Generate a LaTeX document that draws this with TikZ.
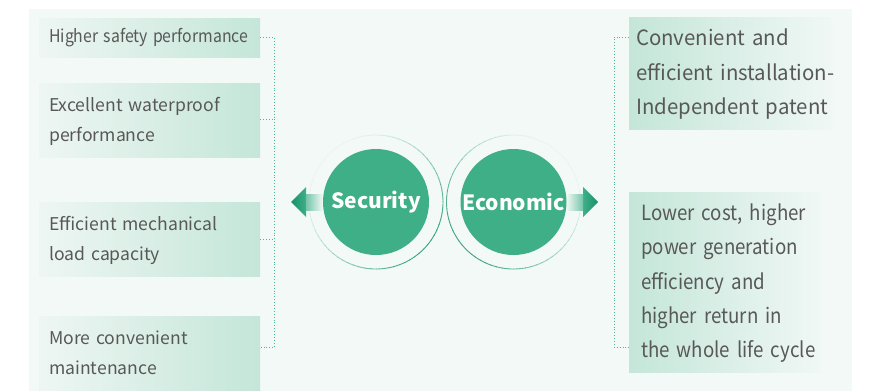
\documentclass[tikz,border=0pt]{standalone}
\usepackage{fontspec}
\usepackage{graphicx}
\setmainfont{Noto Sans CJK SC}
\newfontfamily\rfont[FakeStretch=0.97]{Noto Sans CJK SC}
\newfontfamily\rbfont[FakeStretch=0.89]{Noto Sans CJK SC}
\usetikzlibrary{calc}
\definecolor{panelbg}{HTML}{F3F9F7}
\definecolor{boxgreen}{HTML}{C4E6D9}
\definecolor{boxlight}{HTML}{EEF6F3}
\definecolor{circgreen}{HTML}{3FAF88}
\definecolor{ringgreen}{HTML}{3AA57E}
\definecolor{dotgreen}{HTML}{4DB890}
\definecolor{txtgray}{HTML}{585858}
\definecolor{arrowdark}{HTML}{16916A}
\newcommand{\txtlines}[1]{\begin{tabular}{@{}l@{}}#1\end{tabular}}
\tikzset{
  lbox/.style={shape=rectangle, inner xsep=10pt, inner ysep=0pt, left color=boxlight, right color=boxgreen, draw=none,
    text=txtgray, align=left, font=\fontsize{17.6}{30}\selectfont, anchor=north west},
  rbox/.style={shape=rectangle, inner ysep=0pt, left color=boxgreen, right color=boxlight!60!panelbg, draw=none,
    text=txtgray, align=left, font=\rfont\fontsize{21}{34.3}\selectfont, anchor=north west},
  conn/.style={draw=dotgreen, dotted, line width=0.9pt},
  bigcirc/.style={circle, fill=circgreen, minimum size=106pt, inner sep=0pt, text=white, font=\bfseries\fontsize{21}{24}\selectfont}
}
\begin{document}
\begin{tikzpicture}[x=1pt,y=-1pt]
\useasboundingbox (0,0) rectangle (872,391);
\fill[panelbg] (29,9) rectangle (852,391);
% left boxes
\node[lbox, minimum width=221pt, minimum height=39pt, text width=201pt] (b1) at (39,18) {\resizebox{199pt}{\height}{Higher safety performance}};
\node[lbox, minimum width=221pt, minimum height=74pt, text width=201pt] (b2) at (39,83) {\txtlines{Excellent waterproof\\performance}};
\node[lbox, minimum width=221pt, minimum height=74pt, text width=201pt] (b3) at (39,202) {\txtlines{Efficient mechanical\\load capacity}};
\node[lbox, minimum width=221pt, minimum height=74pt, text width=201pt] (b4) at (39,316) {\txtlines{More convenient\\maintenance}};
% right boxes
\node[rbox, minimum width=203pt, minimum height=112pt, inner xsep=7pt, text width=189pt] (ra) at (629,17) {\txtlines{Convenient and\\efficient installation-\\Independent patent}};
\node[rbox, minimum width=191pt, minimum height=180pt, inner xsep=12pt, text width=167pt, font=\rbfont\fontsize{21}{34.3}\selectfont] (rb) at (629,192) {\txtlines{Lower cost, higher\\power generation\\efficiency and\\higher return in\\the whole life cycle}};
% left connectors
\coordinate (lt) at ($(b1.east)+(14,0)$);
\coordinate (lb) at ($(b4.east)+(14,-6)$);
\draw[conn] (b1.east) -- (lt) -- (lb) -- (lb -| b4.east);
\draw[conn] ($(b2.east)+(0,-1)$) -- ($(b2.east -| lt)+(0,-1)$);
\draw[conn] (b3.east) -- (b3.east -| lt);
% right connectors
\coordinate (rt) at ($(ra.north west)+(-15,20)$);
\coordinate (rbt) at ($(rb.north west)+(-15,155)$);
\draw[conn] (rt -| ra.west) -- (rt) -- (rbt) -- (rbt -| rb.west);
% rings
\foreach \cx/\amax in {376/-40, 513.5/220}{
  \foreach \a in {0,5,...,355}{
    \pgfmathsetmacro{\op}{0.04+0.96*((1+cos(\a+2.5-\amax))/2)^1.5}
    \draw[ringgreen, line width=0.9pt, opacity=\op] (\cx,202) ++(-\a:67) arc[start angle=-\a, end angle=-\a-5.5, radius=67];
  }
}
% arrows
\shade[left color=arrowdark, right color=circgreen] (291,202) -- (306,187) -- (306,217) -- cycle;
\shade[left color=circgreen!70!panelbg, right color=panelbg] (306,194) rectangle (323,210);
\shade[right color=arrowdark, left color=circgreen] (598,202) -- (583,187) -- (583,217) -- cycle;
\shade[right color=circgreen!70!panelbg, left color=panelbg] (566,194) rectangle (583,210);
% circles
\node[bigcirc] (sec) at (376,202) {Security};
\node[bigcirc] (eco) at (513.5,202) {Economic};
\end{tikzpicture}
\end{document}
